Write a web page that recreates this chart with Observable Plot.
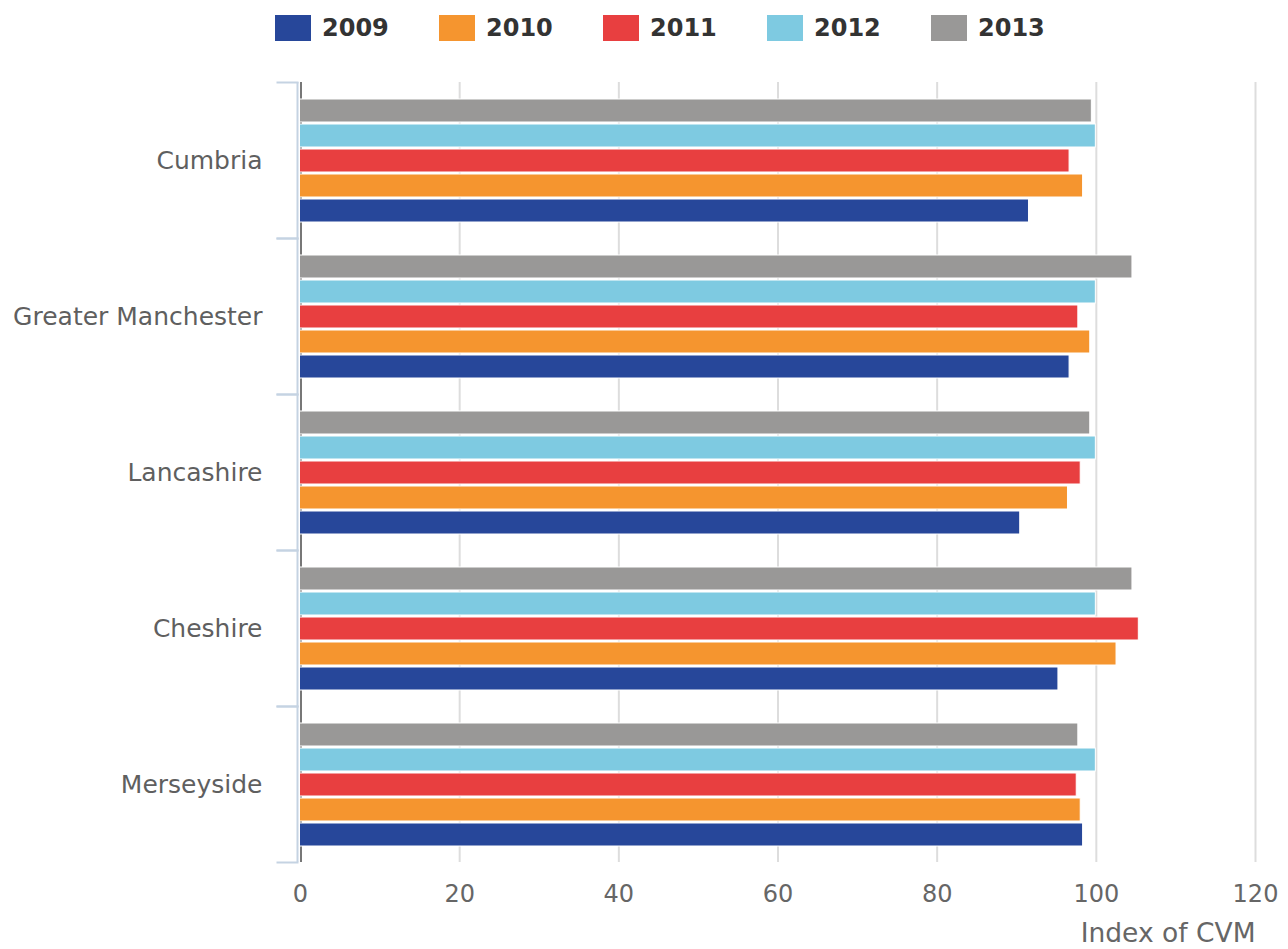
<!DOCTYPE html>
<html>
<head>
<meta charset="utf-8">
<script src="https://cdn.jsdelivr.net/npm/d3@7"></script>
<script src="https://cdn.jsdelivr.net/npm/@observablehq/plot@0.6"></script>
<style>
  html, body { margin: 0; padding: 0; background: white; }
  #wrap { position: relative; width: 1288px; height: 949px; font-family: "DejaVu Sans", sans-serif; }
  #legend { position: absolute; left: 0; top: 0; width: 1288px; height: 56px; }
  .item { position: absolute; top: 15px; height: 26px; display: flex; align-items: center; }
  .sw { width: 36px; height: 26px; margin-right: 11px; }
  .lab { font-weight: bold; font-size: 24px; color: #333; line-height: 26px; }
</style>
</head>
<body>
<div id="wrap"><div id="chart"></div><div id="legend"></div></div>
<script>
const regions = ["Cumbria", "Greater Manchester", "Lancashire", "Cheshire", "Merseyside"];
const years = ["2009", "2010", "2011", "2012", "2013"];
const colors = ["#27479a", "#f5952f", "#e83f40", "#7ecae1", "#999897"];
const v2009 = [91.6, 96.7, 90.5, 95.3, 98.4];
const v2010 = [98.4, 99.3, 96.5, 102.6, 98.1];
const v2011 = [96.7, 97.8, 98.1, 105.4, 97.6];
const v2012 = [100, 100, 100, 100, 100];
const v2013 = [99.5, 104.6, 99.3, 104.6, 97.8];
const xTicks = [0, 20, 40, 60, 80, 100, 120];
const gridTicks = [20, 40, 60, 80, 100, 120];
const xLabel = "Index of CVM";

const series = [v2009, v2010, v2011, v2012, v2013];
const data = [];
regions.forEach((r, i) => years.forEach((y, j) => data.push({region: r, year: y, value: series[j][i]})));

const W = 1288, H = 949;
const mL = 300, mR = 33, mT = 82, mB = 87;

const chart = Plot.plot({
  width: W,
  height: H,
  marginLeft: mL,
  marginRight: mR,
  marginTop: mT,
  marginBottom: mB,
  style: {fontFamily: "'DejaVu Sans', sans-serif", fontSize: "24px", color: "#666", background: "white"},
  x: {domain: [0, 120], axis: null},
  y: {domain: years.slice().reverse(), axis: null, paddingInner: 0.1, paddingOuter: 0.66},
  fy: {domain: regions, padding: 0, axis: null},
  color: {domain: years, range: colors},
  marks: [
    Plot.ruleX(gridTicks, {stroke: "#dddddd", strokeWidth: 2}),
    Plot.ruleX([0], {stroke: "#c5d3e2", strokeWidth: 2, dx: -3}),
    Plot.frame({anchor: "top", stroke: "#c5d3e2", strokeWidth: 2, insetRight: W - mL - mR - 20, dx: -23}),
    Plot.frame({anchor: "bottom", stroke: "#c5d3e2", strokeWidth: 2, insetRight: W - mL - mR - 20, dx: -23}),
    Plot.ruleX([0], {stroke: "#777", strokeWidth: 2, dx: 0.5}),
    Plot.barX(data, {x: "value", y: "year", fy: "region", fill: "year", stroke: "white", strokeWidth: 1, dx: -0.5}),
    Plot.axisFy({anchor: "left", tickSize: 0, tickPadding: 38, label: null, fontSize: 25, color: "#5f5f5f"}),
    Plot.axisX({anchor: "bottom", ticks: xTicks, tickSize: 0, tickPadding: 22, label: null, fontSize: 24, color: "#666"}),
    Plot.text([xLabel], {fy: ["Merseyside"], frameAnchor: "bottom-right", textAnchor: "end", lineAnchor: "bottom", dy: 79, fontSize: 26.5, fill: "#666"})
  ]
});
document.getElementById("chart").appendChild(chart);

const legend = document.getElementById("legend");
years.forEach((y, i) => {
  const it = document.createElement("div");
  it.className = "item";
  it.style.left = (275 + 164 * i) + "px";
  const sw = document.createElement("div");
  sw.className = "sw";
  sw.style.background = colors[i];
  const lab = document.createElement("span");
  lab.className = "lab";
  lab.textContent = y;
  it.appendChild(sw);
  it.appendChild(lab);
  legend.appendChild(it);
});
</script>
</body>
</html>
